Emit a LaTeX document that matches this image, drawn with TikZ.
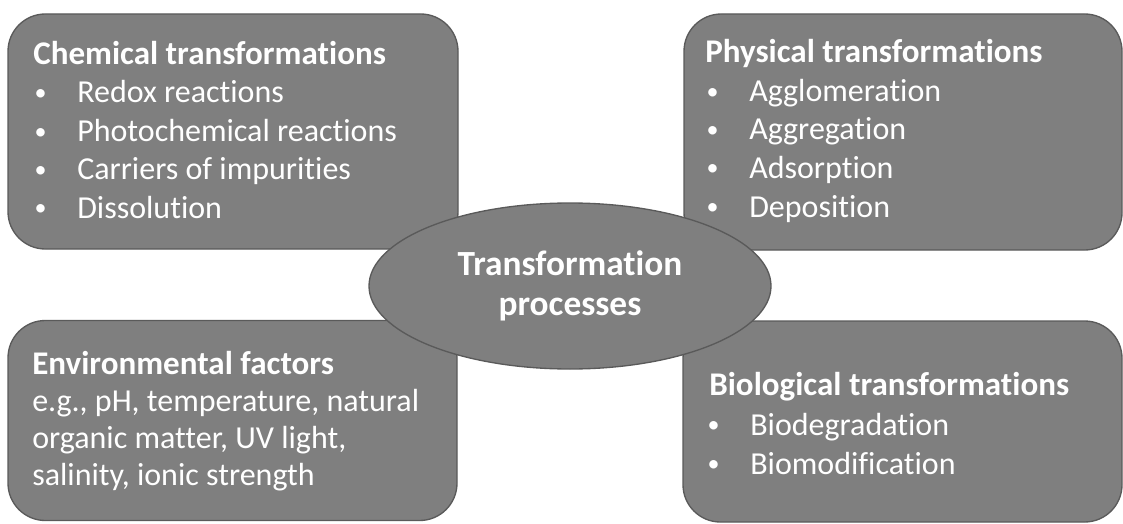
\documentclass[tikz,border=0pt]{standalone}
\usepackage{fontspec}
\setmainfont{Carlito}[RawFeature=-liga]
\usetikzlibrary{shapes.geometric}
\definecolor{boxgray}{HTML}{7F7F7F}
\definecolor{edgegray}{HTML}{5A5A5A}
\newcommand{\blt}{\makebox[33pt][l]{\hspace{1pt}\raisebox{1.6pt}{\fontsize{18}{18}\selectfont\textbullet}}}
\newcommand{\hd}[1]{{\fontsize{24.8}{29}\selectfont\bfseries #1}}

\begin{document}
\begin{tikzpicture}[x=0.75pt,y=-0.75pt]
  \tikzset{panel/.style={draw=edgegray, line width=1pt, fill=boxgray, rounded corners=28pt, inner sep=0pt},
           txt/.style={text=white, font=\fontsize{24}{29}\selectfont, inner sep=0pt, anchor=base west}}
  \useasboundingbox (0,0) rectangle (1123,524);

  \node[panel, minimum width=337.5pt, minimum height=176.25pt] (chem) at (233,131.5) {};
  \node[panel, minimum width=328.5pt, minimum height=177pt]    (phys) at (903,132) {};
  \node[panel, minimum width=336.75pt, minimum height=150pt]   (env)  at (232.5,420.5) {};
  \node[panel, minimum width=329.25pt, minimum height=150.75pt] (bio) at (902.5,421.5) {};

  \node[txt] (chemH) at (33,65)  {\hd{Chemical transformations}};
  \node[txt] (chemA) at (33,103) {\blt Redox reactions};
  \node[txt] (chemB) at (33,142) {\blt Photochemical reactions};
  \node[txt] (chemC) at (33,180) {\blt Carriers of impurities};
  \node[txt] (chemD) at (33,218) {\blt Dissolution};

  \node[txt] (physH) at (705,63)  {\hd{Physical transformations}};
  \node[txt] (physA) at (705,102) {\blt Agglomeration};
  \node[txt] (physB) at (705,140) {\blt Aggregation};
  \node[txt] (physC) at (705,178) {\blt Adsorption};
  \node[txt] (physD) at (705,217) {\blt Deposition};

  \node[txt] (envH) at (32,374) {\hd{Environmental factors}};
  \node[txt] (envA) at (32,411) {e.g., pH, temperature, natural};
  \node[txt] (envB) at (32,448) {organic matter, UV light,};
  \node[txt] (envC) at (32,485) {salinity, ionic strength};

  \node[txt] (bioH) at (709,395) {\hd{Biological transformations}};
  \node[txt] (bioA) at (706,435) {\blt Biodegradation};
  \node[txt] (bioB) at (706,474) {\blt Biomodification};

  \node[ellipse, draw=edgegray, line width=1pt, fill=boxgray, minimum width=301.5pt, minimum height=124.5pt,
        inner sep=0pt, align=center, text=white, font=\fontsize{26.5}{30}\selectfont\bfseries] (proc) at (570,286)
        {Transformation\\processes};
\end{tikzpicture}
\end{document}
